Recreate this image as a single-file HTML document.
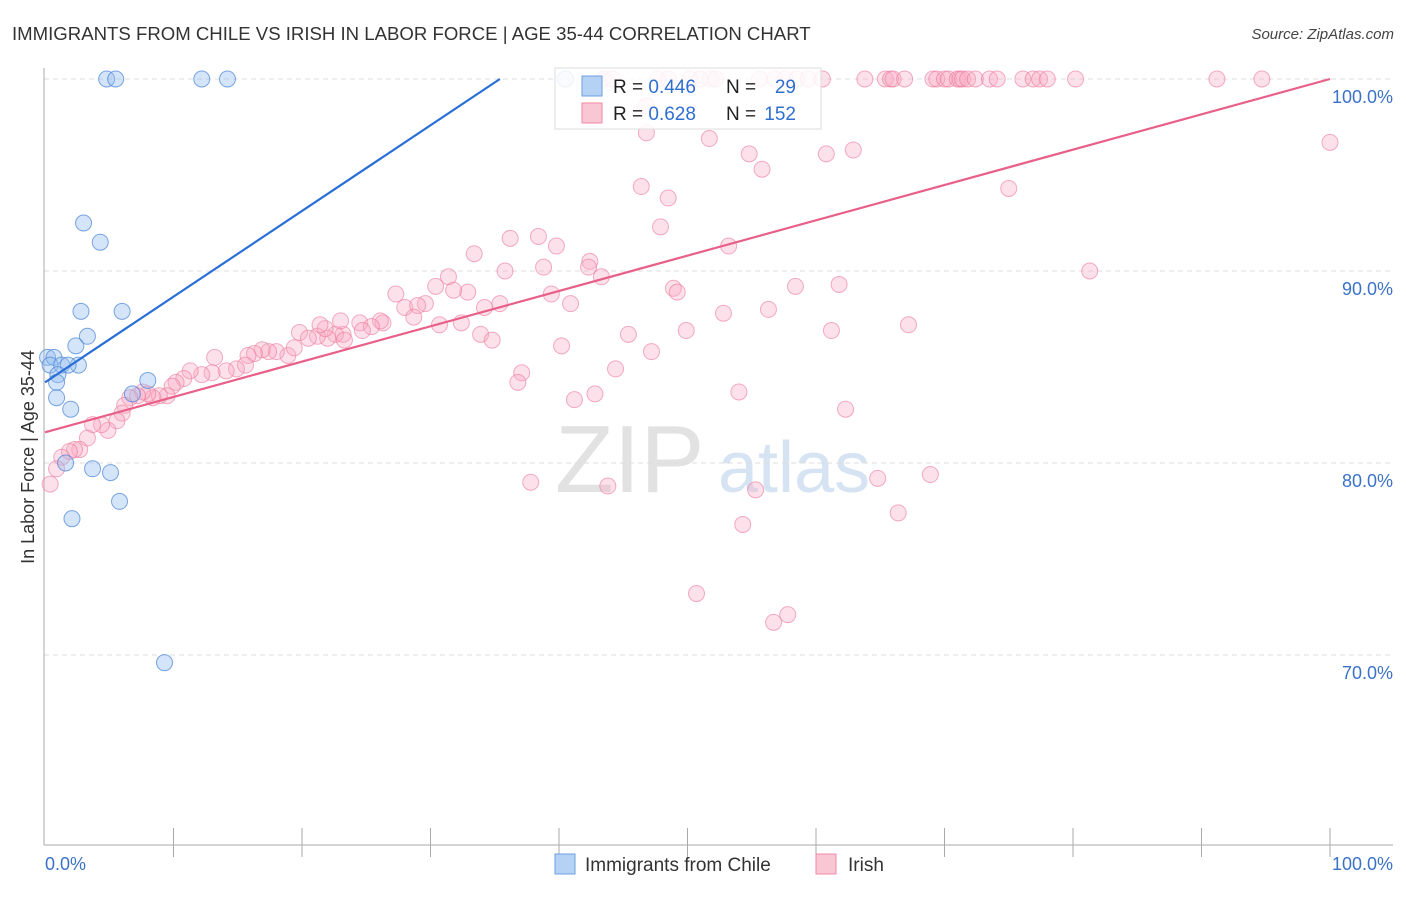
<!DOCTYPE html>
<html><head><meta charset="utf-8"><style>
body{margin:0;background:#fff;width:1406px;height:892px;overflow:hidden;font-family:"Liberation Sans",sans-serif}
svg text{font-family:"Liberation Sans",sans-serif}
</style></head><body>
<svg id="chart" width="1406" height="892" xmlns="http://www.w3.org/2000/svg">
<text x="12" y="40" font-size="18.6" fill="#333">IMMIGRANTS FROM CHILE VS IRISH IN LABOR FORCE | AGE 35-44 CORRELATION CHART</text>
<text x="1394" y="39" font-size="15" fill="#444" font-style="italic" text-anchor="end">Source: ZipAtlas.com</text>
<g>
<text x="555" y="492" font-size="96" fill="#e2e2e2" font-family="Liberation Serif,serif">ZIP</text>
<text x="718" y="492" font-size="72" fill="#d6e3f3">atlas</text>
</g>
<g id="grid"></g>
<g id="axes"></g>
<g id="marks"></g>
<text transform="translate(34,457) rotate(-90)" font-size="18" fill="#333" text-anchor="middle">In Labor Force | Age 35-44</text>
<text x="45" y="870" font-size="18" fill="#3b72c8">0.0%</text>
<text x="1393" y="870" font-size="18" fill="#3b72c8" text-anchor="end">100.0%</text>
<g>
<rect x="555" y="68" width="266" height="61" fill="rgba(255,255,255,0.85)" stroke="#ddd"/>
<rect x="582" y="76" width="20" height="20" fill="#b5d2f5" stroke="#6a9fe0"/>
<rect x="582" y="103" width="20" height="20" fill="#f9c6d4" stroke="#f08aa8"/>
<text x="613" y="93" font-size="19" fill="#222">R = <tspan fill="#2f6fd0">0.446</tspan></text>
<text x="726" y="93" font-size="19" fill="#222">N =</text>
<text x="796" y="93" font-size="19" fill="#2f6fd0" text-anchor="end">29</text>
<text x="613" y="120" font-size="19" fill="#222">R = <tspan fill="#2f6fd0"> 0.628</tspan></text>
<text x="726" y="120" font-size="19" fill="#222">N =</text>
<text x="796" y="120" font-size="19" fill="#2f6fd0" text-anchor="end">152</text>
</g>
<g>
<rect x="555" y="854" width="20" height="20" fill="#b5d2f5" stroke="#6a9fe0"/>
<text x="585" y="871" font-size="19" fill="#333">Immigrants from Chile</text>
<rect x="816" y="854" width="20" height="20" fill="#f9c6d4" stroke="#f08aa8"/>
<text x="848" y="871" font-size="19" fill="#333">Irish</text>
</g>
</svg>
<script>
const yTicks=[100,90,80,70];
const yTickLabels=["100.0%","90.0%","80.0%","70.0%"];
const xTicks=[10,20,30,40,50,60,70,80,90,100];
const chileX=[4.8,5.5,12.2,14.2,40.5,3.0,4.3,2.8,6.0,3.3,2.4,0.2,0.7,0.4,1.3,2.6,1.8,1.0,0.9,0.9,8.0,6.8,2.0,1.6,3.7,5.1,5.8,2.1,9.3];
const chileY=[100,100,100,100,100,92.5,91.5,87.9,87.9,86.6,86.1,85.5,85.5,85.1,85.1,85.1,85.1,84.6,84.2,83.4,84.3,83.6,82.8,80.0,79.7,79.5,78.0,77.1,69.6];
const irishX=[43.5,44.1,47.7,48.5,50.2,51.0,51.8,52.2,55.6,56.8,57.6,58.5,59.4,60.5,63.8,65.4,65.8,66.0,66.9,69.1,69.4,70.0,70.3,71.0,71.2,71.4,71.8,72.4,73.5,74.1,76.1,76.9,77.4,78.0,80.2,91.2,94.7,
46.8,46.8,51.7,54.8,55.8,60.8,62.9,46.4,48.5,100,75.0,47.9,36.2,38.4,39.8,33.4,53.2,42.4,42.3,38.8,35.8,43.3,81.3,31.4,30.4,27.3,29.6,28.0,29.0,32.9,31.8,35.4,34.2,40.9,39.4,48.9,49.2,58.4,61.8,56.3,52.8,67.2,61.2,49.9,45.4,30.7,32.4,33.9,34.8,28.7,26.3,26.1,24.5,23.2,22.6,22.0,21.2,23.0,19.8,20.5,21.8,21.4,23.3,25.4,24.7,18.9,19.4,18.0,17.4,16.9,16.3,15.8,15.6,14.9,14.1,13.2,13.0,12.2,11.3,10.8,10.2,9.9,9.5,8.9,8.4,8.0,7.6,7.2,6.6,6.2,6.0,5.6,4.9,4.4,3.7,3.3,2.7,2.3,1.9,1.3,0.9,0.4,40.2,47.2,44.4,37.1,36.8,41.2,42.8,54.0,62.3,37.8,43.8,55.3,64.8,68.9,54.3,66.4,50.7,56.7,57.8];
const irishY=[100,100,100,100,100,100,100,100,100,100,100,100,100,100,100,100,100,100,100,100,100,100,100,100,100,100,100,100,100,100,100,100,100,100,100,100,100,
98.6,97.2,96.9,96.1,95.3,96.1,96.3,94.4,93.8,96.7,94.3,92.3,91.7,91.8,91.3,90.9,91.3,90.5,90.2,90.2,90.0,89.7,90.0,89.7,89.2,88.8,88.3,88.1,88.2,88.9,89.0,88.3,88.1,88.3,88.8,89.1,88.9,89.2,89.3,88.0,87.8,87.2,86.9,86.9,86.7,87.2,87.3,86.7,86.4,87.6,87.3,87.4,87.3,86.7,86.7,86.5,86.6,87.4,86.8,86.5,87.0,87.2,86.4,87.1,86.9,85.6,86.0,85.8,85.8,85.9,85.7,85.6,85.1,84.9,84.8,85.5,84.7,84.6,84.8,84.4,84.2,84.0,83.5,83.5,83.4,83.6,83.7,83.5,83.4,83.0,82.6,82.2,81.7,82.0,82.0,81.3,80.7,80.7,80.6,80.3,79.7,78.9,86.1,85.8,84.9,84.7,84.2,83.3,83.6,83.7,82.8,79.0,78.8,78.6,79.2,79.4,76.8,77.4,73.2,71.7,72.1];
const chileTrend=[[0,84.2],[35.4,100]];
const irishTrend=[[0,81.6],[100,100]];

const NS="http://www.w3.org/2000/svg";
const X=v=>45+v*12.85;
const Y=v=>79+(100-v)*19.2;
function mk(tag,attrs,parent){const e=document.createElementNS(NS,tag);for(const k in attrs)e.setAttribute(k,attrs[k]);document.getElementById(parent).appendChild(e);return e;}
yTicks.forEach((t,i)=>{
  const l=mk('line',{x1:44,x2:1393,y1:Y(t),y2:Y(t),stroke:'#ddd','stroke-dasharray':'5,4'},'grid');
  
  
  const tx=mk('text',{x:1393,y:Y(t)+24,'font-size':18,fill:'#3b72c8','text-anchor':'end'},'grid');
  tx.textContent=yTickLabels[i];
  
  
});
const ya=mk('line',{x1:44,x2:44,y1:68,y2:845,stroke:'#aaa'},'axes');


const xa=mk('line',{x1:44,x2:1393,y1:845,y2:845,stroke:'#aaa'},'axes');


xTicks.forEach(t=>{
  const l=mk('line',{x1:X(t),x2:X(t),y1:828,y2:857,stroke:'#aaa'},'axes');
  
  
});
irishX.forEach((v,i)=>{
  const c=mk('circle',{cx:X(v),cy:Y(irishY[i]),r:8,fill:'rgba(248,170,195,0.35)',stroke:'rgba(235,120,155,0.6)','stroke-width':1},'marks');
  
  
});
chileX.forEach((v,i)=>{
  const c=mk('circle',{cx:X(v),cy:Y(chileY[i]),r:8,fill:'rgba(150,190,240,0.4)',stroke:'rgba(70,130,215,0.7)','stroke-width':1},'marks');
  
  
});
const bl=mk('line',{x1:X(chileTrend[0][0]),y1:Y(chileTrend[0][1]),x2:X(chileTrend[1][0]),y2:Y(chileTrend[1][1]),stroke:'#2a6fd6','stroke-width':2.2},'marks');


const pl=mk('line',{x1:X(irishTrend[0][0]),y1:Y(irishTrend[0][1]),x2:X(irishTrend[1][0]),y2:Y(irishTrend[1][1]),stroke:'#e8608a','stroke-width':2.2},'marks');


</script>
</body></html>
